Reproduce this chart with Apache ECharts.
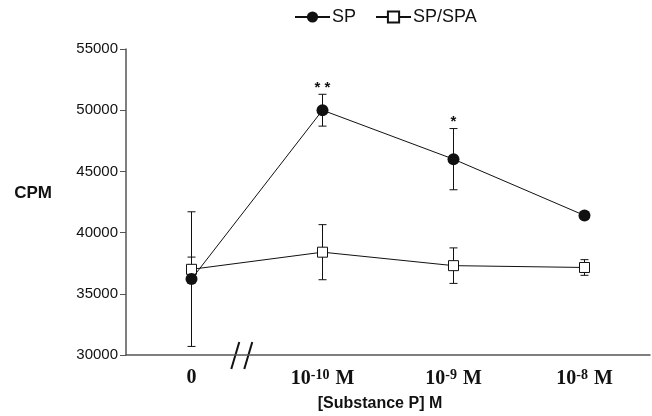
<!DOCTYPE html>
<html>
<head>
<meta charset="utf-8">
<script src="https://cdn.jsdelivr.net/npm/echarts@6/dist/echarts.min.js"></script>
<style>
  html, body {margin: 0; padding: 0; background: #fff;}
  #chart {width: 652px; height: 416px;}
</style>
</head>
<body>
<div id="chart"></div>
<script>
(function(){
  'use strict';

  /*
    data
  */
  var doseLabels = ['0', '10{sup|-10} M', '10{sup|-9} M', '10{sup|-8} M'];
  var spMean     = [36200, 50000, 46000, 41400],
      spErr      = [5500, 1300, 2500, 300],
      spaMean    = [37000, 38400, 37300, 37150],
      spaErr     = [1000, 2250, 1450, 640],
      spSig      = ['', '**', '*', ''],
      spaSig     = ['', '', '', ''];
  var yTicks = {min: 30000, max: 55000, step: 5000};

  var ink = '#111', axisInk = '#555',
      sans = '"Liberation Sans", Arial, sans-serif',
      serif = '"Liberation Serif", "Times New Roman", serif';

  // [index, low, high] rows for the error bar series
  var errRows = function(mean, err){
    return mean.map(function(v, i){ return [i, v - err[i], v + err[i]]; });
  };

  var errRender = function(sig){
    return function(params, api){
      var i = api.value(0),
          lo = api.coord([i, api.value(1)]),
          hi = api.coord([i, api.value(2)]),
          w = 4,
          st = {stroke: ink, lineWidth: 1};
      var kids = [
        {type: 'line', shape: {x1: lo[0], y1: lo[1], x2: hi[0], y2: hi[1]}, style: st},
        {type: 'line', shape: {x1: lo[0] - w, y1: lo[1], x2: lo[0] + w, y2: lo[1]}, style: st},
        {type: 'line', shape: {x1: hi[0] - w, y1: hi[1], x2: hi[0] + w, y2: hi[1]}, style: st}
      ];
      if (sig[i]) {
        kids.push({type: 'text', style: {
          text: sig[i].split('').join(' '), x: hi[0], y: hi[1] + 1, align: 'center', verticalAlign: 'bottom',
          font: 'bold 15px ' + sans, fill: ink
        }});
      }
      return {type: 'group', children: kids};
    };
  };

  var chart = echarts.init(document.getElementById('chart'));

  chart.setOption({
    animation: false,
    backgroundColor: '#fff',
    grid: {left: 126, right: 2, top: 49, bottom: 61, containLabel: false, outerBoundsMode: 'none'},
    legend: {
      left: 294, top: 8, padding: 0,
      itemWidth: 35, itemHeight: 14, itemGap: 19,
      textStyle: {fontFamily: sans, fontSize: 18, color: ink, padding: [0, 0, 0, -3]},
      data: ['SP', 'SP/SPA']
    },
    xAxis: {
      type: 'category',
      data: doseLabels,
      boundaryGap: true,
      axisLine: {lineStyle: {color: axisInk, width: 1.5}},
      axisTick: {show: false},
      axisLabel: {
        interval: 0,
        margin: 13,
        color: ink,
        fontFamily: serif,
        fontWeight: 'bold', fontSize: 20,
        rich: {
          sup: {fontSize: 14, fontWeight: 'bold', fontFamily: serif,
                padding: [0, 1, 8, 0], color: ink}
        }
      },
      name: '[Substance P] M',
      nameLocation: 'middle',
      nameGap: 41,
      nameTextStyle: {fontFamily: sans, fontWeight: 'bold', fontSize: 16, color: ink, padding: [0, 16, 0, 0]}
    },
    yAxis: {
      type: 'value',
      min: yTicks.min, max: yTicks.max, interval: yTicks.step,
      splitLine: {show: false},
      axisLine: {show: true, lineStyle: {color: axisInk, width: 1.5}},
      axisTick: {show: true, length: 6, lineStyle: {color: axisInk}},
      axisLabel: {margin: 8, color: ink, fontFamily: sans, fontSize: 15,
                  formatter: function(v){ return String(v); }},
      name: 'CPM',
      nameLocation: 'middle',
      nameRotate: 0,
      nameGap: 74,
      nameTextStyle: {fontFamily: sans, fontWeight: 'bold', fontSize: 17, color: ink,
                      align: 'right', verticalAlign: 'bottom'}
    },
    series: [
      {
        name: 'SP err', type: 'custom', z: 1,
        data: errRows(spMean, spErr),
        encode: {x: 0, y: [1, 2]},
        renderItem: errRender(spSig)
      },
      {
        name: 'SP/SPA err', type: 'custom', z: 1,
        data: errRows(spaMean, spaErr),
        encode: {x: 0, y: [1, 2]},
        renderItem: errRender(spaSig)
      },
      {
        name: 'SP/SPA', type: 'line', z: 3,
        data: spaMean,
        symbol: 'rect', symbolSize: 10,
        lineStyle: {color: ink, width: 1},
        itemStyle: {color: '#fff', borderColor: ink, borderWidth: 1}
      },
      {
        name: 'SP', type: 'line', z: 4,
        data: spMean,
        symbol: 'circle', symbolSize: 12,
        lineStyle: {color: ink, width: 1},
        itemStyle: {color: ink, borderColor: ink, borderWidth: 0}
      }
    ]
  });

  // axis break "//" between the first two categories
  var p0 = chart.convertToPixel({xAxisIndex: 0}, 0),
      p1 = chart.convertToPixel({xAxisIndex: 0}, 1),
      yBase = chart.convertToPixel({yAxisIndex: 0}, yTicks.min),
      bx = p0 + (p1 - p0) * 0.38;
  var slash = function(cx){
    return {type: 'line', shape: {x1: cx + 4, y1: yBase - 13, x2: cx - 4, y2: yBase + 14},
            style: {stroke: ink, lineWidth: 2}};
  };
  chart.setOption({graphic: [slash(bx - 6), slash(bx + 7)]});
})();
</script>
</body>
</html>
